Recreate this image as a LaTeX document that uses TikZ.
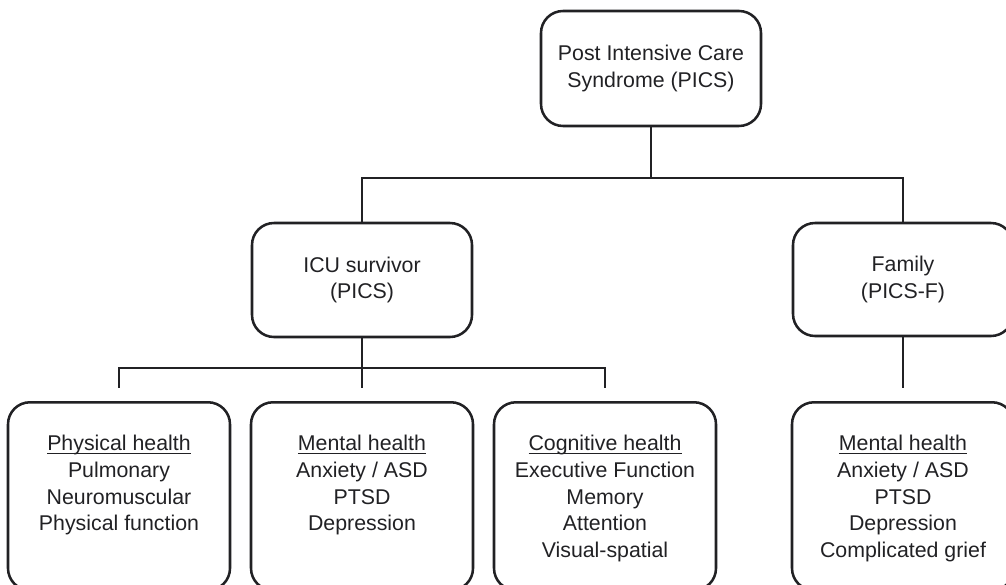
\documentclass[tikz,border=0pt]{standalone}
\usepackage{fontspec}
\setmainfont{Liberation Sans}
\usepackage{tikz}

\newsavebox{\headbox}
\newcommand{\uhead}[1]{\sbox{\headbox}{#1}\rlap{\rule[-2.8pt]{\wd\headbox}{0.9pt}}\usebox{\headbox}}

\definecolor{ink}{rgb}{0.13,0.13,0.14}
\tikzset{
  box/.style={draw=ink, line width=1.9pt, rounded corners=16.5pt, minimum width=165pt, align=center, inner sep=0pt},
  leaf/.style={box, minimum width=166.5pt, minimum height=141pt, anchor=north},
  leaftext/.style={anchor=north, align=center, inner sep=0pt, text=ink},
  link/.style={draw=ink, line width=1.9pt, shorten >=9.75pt}
}

\begin{document}
\begin{tikzpicture}[x=0.75pt,y=0.75pt,yscale=-1,xscale=1, font=\fontsize{16}{20}\selectfont, text=ink]
\path[use as bounding box, clip] (0,0) rectangle (1006,585);

%Shape: top box
\node[box, minimum height=86.25pt] (pics) at (651,68.5) {Post Intensive Care\\Syndrome (PICS)};
%Shape: second row
\node[box, minimum height=85.5pt] (icu) at (362,280) {ICU survivor\\(PICS)};
\node[box, minimum height=84.75pt] (fam) at (903,279.5) {Family\\(PICS-F)};

%Shape: bottom row
\node[leaf] (phys) at (119,401) {};
\node[leaf] (ment) at (362,401) {};
\node[leaf] (cog) at (605,401) {};
\node[leaf] (fment) at (903,401) {};

% Text Node
\node[leaftext, yshift=-25.5pt] (physT) at (phys.north) {\uhead{Physical health}\\Pulmonary\\Neuromuscular\\Physical function};
% Text Node
\node[leaftext, yshift=-25.5pt] (mentT) at (ment.north) {\uhead{Mental health}\\Anxiety / ASD\\PTSD\\Depression};
% Text Node
\node[leaftext, yshift=-25.5pt] (cogT) at (cog.north) {\uhead{Cognitive health}\\Executive Function\\Memory\\Attention\\Visual-spatial};
% Text Node
\node[leaftext, yshift=-25.5pt] (fmentT) at (fment.north) {\uhead{Mental health}\\Anxiety / ASD\\PTSD\\Depression\\Complicated grief};

%Straight Lines
\coordinate (split1) at (651,178);
\coordinate (split2) at (362,368);
\draw[ink, line width=1.9pt] (pics.south) -- (split1);
\draw[ink, line width=1.9pt] (icu.north) |- (split1) -| (fam.north);
\draw[ink, line width=1.9pt] (icu.south) -- (split2);
\draw[link] (split2) -| (phys.north);
\draw[link] (split2) -- (ment.north);
\draw[link] (split2) -| (cog.north);
\draw[link] (fam.south) -- (fment.north);

\end{tikzpicture}
\end{document}
